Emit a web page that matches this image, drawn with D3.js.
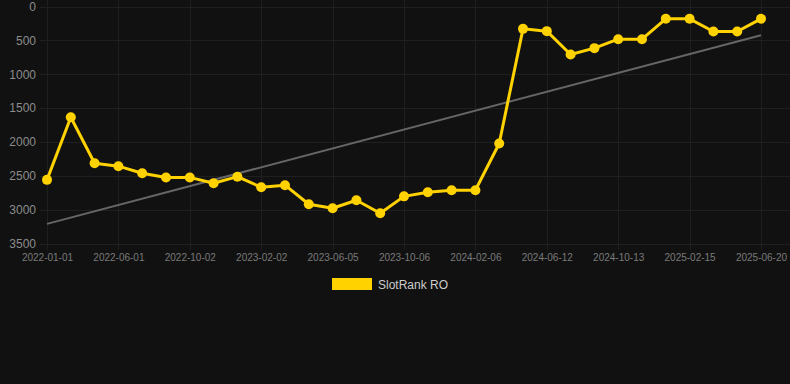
<!DOCTYPE html>
<html lang="en">
<head>
  <meta charset="UTF-8">
  <script src="https://cdn.jsdelivr.net/npm/d3@7/dist/d3.min.js"></script>
  <title>SlotRank RO</title>
  <style>
    html, body {
      margin: 0;
      padding: 0;
      background-color: #111111;
    }
    svg {
      display: block;
      font-family: "Liberation Sans", Arial, sans-serif;
    }
    .grid line {
      stroke: #1f1f1f;
      stroke-width: 1;
      shape-rendering: crispEdges;
    }
    .axis path, .axis line {
      display: none;
    }
    .y-axis text {
      font-size: 12px;
      fill: #8c8c8c;
    }
    .x-axis text {
      font-size: 10px;
      fill: #7a7a7a;
    }
  </style>
</head>
<body>

<div id="chart"></div>

<script>
  var width = 790;
  var height = 384;

  // rank per period (lower is better)
  var rankValues = [2560, 1635, 2314, 2358, 2462, 2526, 2524, 2610, 2513, 2669,
                    2639, 2920, 2979, 2861, 3053, 2804, 2743, 2713, 2713, 2024,
                    330, 364, 709, 615, 483, 483, 182, 182, 369, 369, 182];

  // labels shown on the x axis (every third period)
  var tickLabels = ["2022-01-01", "2022-06-01", "2022-10-02", "2023-02-02", "2023-06-05",
                    "2023-10-06", "2024-02-06", "2024-06-12", "2024-10-13", "2025-02-15",
                    "2025-06-20"];
  var tickEvery = 3;

  var yTicks = [0, 500, 1000, 1500, 2000, 2500, 3000, 3500];

  // trend line start and end values
  var trendValues = [3210, 424];

  var seriesName = "SlotRank RO";
  var yellow = "#ffd200";

  var svg = d3.select("#chart")
    .append("svg")
    .attr("width", width)
    .attr("height", height);

  var idx = d3.range(rankValues.length);

  var xScale = d3.scalePoint()
    .domain(idx)
    .range([47, 761]);

  var yScale = d3.scaleLinear()
    .domain([0, 3500])
    .range([6.5, 243.5]);

  // horizontal grid
  svg.append("g")
    .attr("class", "grid")
    .selectAll("line")
    .data(yTicks)
    .enter()
    .append("line")
    .attr("x1", 40)
    .attr("x2", width)
    .attr("y1", function (d) { return Math.round(yScale(d)) + 0.5; })
    .attr("y2", function (d) { return Math.round(yScale(d)) + 0.5; });

  // vertical grid
  var tickIdx = idx.filter(function (i) { return i % tickEvery === 0; });
  svg.append("g")
    .attr("class", "grid")
    .selectAll("line")
    .data(tickIdx)
    .enter()
    .append("line")
    .attr("x1", function (d) { return Math.round(xScale(d)) + 0.5; })
    .attr("x2", function (d) { return Math.round(xScale(d)) + 0.5; })
    .attr("y1", 0)
    .attr("y2", 250);

  // y axis
  svg.append("g")
    .attr("class", "axis y-axis")
    .attr("transform", "translate(36,0)")
    .call(d3.axisLeft(yScale)
      .tickValues(yTicks)
      .tickSize(0)
      .tickPadding(0)
      .tickFormat(d3.format("d")));

  // x axis
  svg.append("g")
    .attr("class", "axis x-axis")
    .attr("transform", "translate(0,250)")
    .call(d3.axisBottom(xScale)
      .tickValues(tickIdx)
      .tickSize(0)
      .tickPadding(4)
      .tickFormat(function (d) { return tickLabels[d / tickEvery]; }));

  // trend line
  svg.append("line")
    .attr("x1", xScale(0))
    .attr("x2", xScale(idx.length - 1))
    .attr("y1", yScale(trendValues[0]))
    .attr("y2", yScale(trendValues[1]))
    .style("stroke", "#666666")
    .style("stroke-width", 2);

  // series line
  var line = d3.line()
    .x(function (d, i) { return xScale(i); })
    .y(function (d) { return yScale(d); });

  svg.append("path")
    .datum(rankValues)
    .attr("d", line)
    .style("fill", "none")
    .style("stroke", yellow)
    .style("stroke-width", 3)
    .style("stroke-linejoin", "round");

  svg.selectAll(".dot")
    .data(rankValues)
    .enter()
    .append("circle")
    .attr("class", "dot")
    .attr("r", 5)
    .attr("cx", function (d, i) { return xScale(i); })
    .attr("cy", function (d) { return yScale(d); })
    .style("fill", yellow);

  // legend
  var legend = svg.append("g")
    .attr("transform", "translate(332,278)");

  legend.append("rect")
    .attr("width", 40)
    .attr("height", 12)
    .style("fill", yellow);

  legend.append("text")
    .attr("x", 46)
    .attr("y", 10.5)
    .style("font-size", "12px")
    .style("fill", "#cccccc")
    .text(seriesName);
</script>

</body>
</html>
